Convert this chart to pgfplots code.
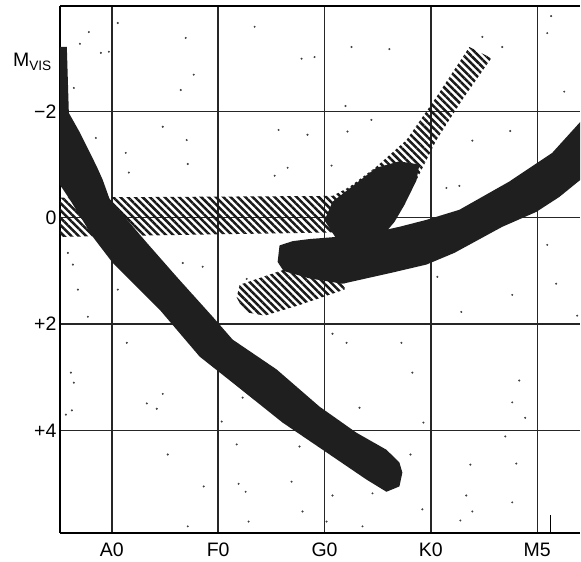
\documentclass[border=0pt]{standalone}
\usepackage{fontspec}
\setmainfont{Liberation Sans}
\usepackage{pgfplots}
\pgfplotsset{compat=1.18}
\usetikzlibrary{patterns.meta}
\begin{document}
\begin{tikzpicture}
\begin{axis}[name=ax,
  scale only axis, width=521pt, height=528pt,
  xmin=-0.488, xmax=4.404, ymin=-3.98, ymax=5.93, y dir=reverse,
  axis x line*=box, axis y line*=left,
  x axis line style={-, line width=1.6pt}, y axis line style={-, line width=1.6pt},
  xtick={0,1,2,3,4}, xticklabels={A0,F0,G0,K0,M5}, xticklabel pos=lower,
  ytick={-2,0,2,4}, yticklabels={−2,0,+2,+4},
  major tick length=0pt,
  grid=major, major grid style={black!85, line width=1.4pt},
  every tick label/.append style={font=\fontsize{19.5}{23}\selectfont, text=black},
  xticklabel style={anchor=base, yshift=-23pt},
]
% hatched branch (horizontal + rising)
\addplot[draw=none, pattern={Lines[angle=-45,distance=5.2pt,line width=2.5pt]}, pattern color=black!90] coordinates {
(-0.488,-0.38) (2.075,-0.41) (2.235,-0.58) (2.488,-0.96) (2.770,-1.46) (3.052,-2.27)
(3.362,-3.21) (3.568,-3.00) (3.296,-2.22) (3.052,-1.46) (2.864,-0.71) (2.704,-0.11)
(2.563,0.26) (-0.488,0.36)} -- cycle;
% lower hatched band
\addplot[draw=none, pattern={Lines[angle=-45,distance=5.2pt,line width=2.5pt]}, pattern color=black!90] coordinates {
(1.202,1.26) (1.671,0.94) (2.047,0.70) (2.188,0.62) (2.188,1.35) (1.765,1.64) (1.437,1.84) (1.249,1.77) (1.174,1.50)} -- cycle;
% dark overlap blob
\addplot[draw=none, fill=black!88] coordinates {
(2.075,-0.30) (2.254,-0.58) (2.488,-0.94) (2.704,-1.06) (2.892,-1.00) (2.864,-0.70)
(2.751,-0.24) (2.657,0.08) (2.563,0.30) (2.300,0.45) (2.113,0.40) (2.000,0.05)} -- cycle;
% main sequence
\addplot[draw=none, fill=black!88] coordinates {
(-0.488,-3.21) (-0.423,-3.21) (-0.404,-1.97) (-0.300,-1.60) (-0.141,-0.96) (-0.085,-0.71)
(-0.019,-0.34) (0.329,0.47) (0.610,1.11) (0.948,1.86) (1.136,2.29) (1.549,2.85)
(1.953,3.55) (2.300,4.04) (2.582,4.36) (2.704,4.60) (2.732,4.79)
(2.704,5.05) (2.582,5.15) (2.394,4.92) (2.019,4.41) (1.606,3.85) (1.136,3.10)
(0.826,2.61) (0.451,1.73) (0.009,0.85) (-0.178,0.36) (-0.394,-0.34) (-0.488,-0.62)} -- cycle;
% giant branch
\addplot[draw=none, fill=black!88] coordinates {
(1.559,0.83) (1.577,0.52) (1.700,0.44) (1.859,0.40) (2.113,0.36) (2.545,0.24)
(2.704,0.17) (2.958,0.04) (3.268,-0.15) (3.737,-0.68) (4.141,-1.22) (4.404,-1.80)
(4.404,-0.71) (4.207,-0.39) (3.991,-0.11) (3.671,0.17) (3.221,0.66) (2.958,0.88)
(2.638,1.03) (2.169,1.24) (1.859,1.14) (1.615,1.00)} -- cycle;
% field stars
\addplot[only marks, mark=*, mark size=0.8pt, black!75] coordinates {
(-0.216,-3.49) (-0.300,-3.27) (-0.103,-3.10) (-0.028,-3.12) (0.056,-3.66) (0.695,-3.38)
(0.770,-2.69) (0.648,-2.40) (-0.357,-2.44) (0.479,-1.71) (0.704,-1.46) (0.131,-1.22)
(0.714,-1.01) (0.160,-0.85) (-0.150,-1.50) (-0.366,0.88) (-0.319,1.35) (0.667,0.85)
(-0.225,1.86) (0.141,2.35) (-0.385,2.91) (-0.357,3.10) (-0.376,3.62) (-0.432,3.70)
(0.479,3.31) (0.329,3.49) (0.423,3.59) (0.526,4.45) (0.864,5.05) (0.714,5.80)
(1.174,4.26) (1.192,5.00) (1.258,5.15) (1.286,5.71) (1.690,4.96) (1.033,3.83)
(2.329,3.57) (2.930,3.85) (2.808,4.45) (2.451,5.18) (2.075,5.22) (1.793,5.52)
(2.357,5.80) (2.019,5.71) (2.920,5.48) (3.333,5.22) (3.390,5.52) (3.277,5.69)
(3.371,4.64) (3.700,4.11) (3.803,4.62) (3.765,5.35) (3.765,3.47) (3.887,3.76)
(3.831,3.06) (1.343,-3.59) (1.784,-2.99) (1.906,-3.02) (2.254,-3.21) (2.610,-3.17)
(2.197,-2.10) (1.568,-1.65) (1.840,-1.56) (2.216,-1.62) (2.441,-1.84) (1.653,-0.94)
(1.531,-0.79) (2.066,-0.98) (3.484,-3.40) (3.671,-3.21) (4.131,-3.79) (4.094,-3.47)
(4.254,-2.37) (3.746,-1.63) (3.390,-1.45) (3.146,-0.56) (3.268,-0.60) (3.061,1.11)
(3.286,1.77) (3.765,1.45) (4.094,0.51) (4.178,1.24) (4.376,1.84) (2.075,2.18)
(2.207,2.35) (2.723,2.35) (2.826,2.91) (1.230,3.38) (1.765,4.30) (-0.413,0.66)
(0.056,1.35) (0.854,0.92) (1.268,1.15)};
% short vertical mark near M5
\addplot[black, line width=1.4pt] coordinates {(4.122,5.93) (4.122,5.58)};
\end{axis}
\path (ax.north west) ++(-8pt,-61pt) node[anchor=base east, inner sep=0pt, font=\fontsize{19.5}{22}\selectfont] {M\textsubscript{VIS}};
\path (ax.south west) ++(-60pt,-28pt) (ax.north east) ++(0pt,6pt);
\end{tikzpicture}
\end{document}
